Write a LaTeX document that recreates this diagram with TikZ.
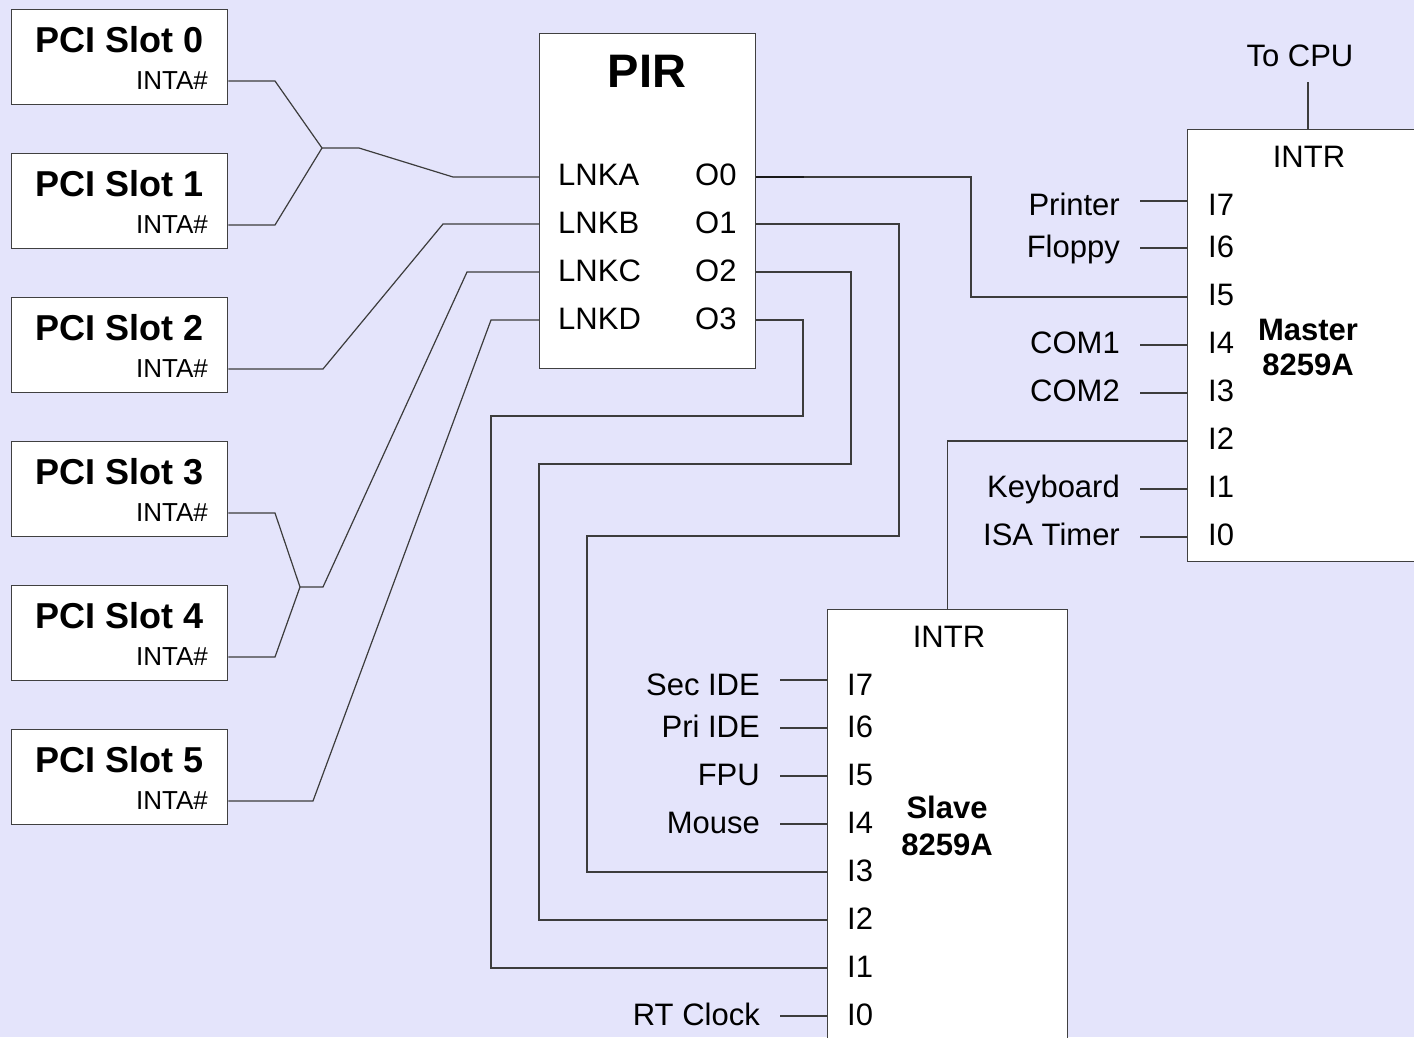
\documentclass[tikz,border=0pt]{standalone}
\usepackage{fontspec}
\setmainfont{Liberation Sans}
\definecolor{bgcol}{RGB}{228,228,251}
\definecolor{wirecol}{RGB}{60,60,60}
\definecolor{boxcol}{RGB}{64,64,64}
\newcommand\fsz[1]{\fontsize{#1}{#1}\selectfont}

\begin{document}
\begin{tikzpicture}[x=1pt,y=-1pt,
  box/.style={draw=boxcol,fill=white,line width=1.4pt,inner sep=0pt,anchor=north west},
  wire/.style={draw=wirecol,line width=1.2pt},
  txt/.style={inner sep=0pt,text=black,font=\fsz{31}},
  slottitle/.style={inner sep=0pt,anchor=base,font=\fsz{36}\bfseries},
  inta/.style={inner sep=0pt,anchor=base east,font=\fsz{26}},
  chip/.style={inner sep=0pt,anchor=base,font=\fsz{31}\bfseries}]

\useasboundingbox (0,0) rectangle (1414,1037);
\fill[bgcol] (0,0) rectangle (1414,1037);
\clip (0,0) rectangle (1414,1037);

% ---- PCI slots ----
\foreach \k in {0,...,5} {
  \pgfmathsetmacro\ytop{9+144*\k}
  \node[box,minimum width=216pt,minimum height=95pt] (s\k) at (11,\ytop) {};
  \node[slottitle] (s\k-t) at (120,\ytop+43) {PCI Slot \k};
  \node[inta] (s\k-i) at (208,\ytop+80) {INTA\#};
}

% ---- PIR router ----
\node[box,minimum width=216pt,minimum height=335pt] (pir) at (539,33) {};
\node[inner sep=0pt,anchor=base,font=\fsz{47}\bfseries] (pir-t) at (647,87) {PIR};
\foreach \n/\b in {A/185,B/233,C/281,D/329} {
  \node[txt,anchor=base west] (lnk\n) at (558,\b) {LNK\n};
}
\foreach \n/\b in {0/185,1/233,2/281,3/329} {
  \node[txt,anchor=base west] (out\n) at (695,\b) {O\n};
}

% ---- Master 8259A ----
\node[box,minimum width=260pt,minimum height=432pt] (master) at (1187,129) {};
\node[txt,anchor=base] (m-intr) at (1309,167) {INTR};
\node[chip] (m-name1) at (1308,340) {Master};
\node[chip] (m-name2) at (1308,375) {8259A};
\node[txt,anchor=base] (cpu) at (1300,66) {To CPU};
\coordinate (cpuend) at (1308,82);
\draw[wire] (cpuend) -- (cpuend |- master.north);

\foreach \n/\l/\c/\name in {7/201/204/Printer,6/248/246/Floppy,5/297/294/,
    4/345/342/COM1,3/393/390/COM2,2/441/438/,1/489/486/Keyboard,0/537/534/ISA Timer} {
  \node[txt,anchor=base west] (mi\n) at (1208,\c+11) {I\n};
  \coordinate (mp\n) at (master.west |- 0,\l);
}
\foreach \n/\l/\c/\name in {7/201/204/Printer,6/248/246/Floppy,
    4/345/342/COM1,3/393/390/COM2,1/489/486/Keyboard,0/537/534/ISA Timer} {
  \node[txt,anchor=base east] (ms\n) at (1120,\c+11) {\name};
  \draw[wire] (mp\n) -- ++(-47,0);
}

% ---- Slave 8259A ----
\node[box,minimum width=240pt,minimum height=460pt] (slave) at (827,609) {};
\node[txt,anchor=base] (s-intr) at (949,647) {INTR};
\node[chip] (s-name1) at (947,818) {Slave};
\node[chip] (s-name2) at (947,855) {8259A};

\foreach \n/\l/\c in {7/680/684,6/728/726,5/776/774,4/824/822,
    3/872/870,2/920/918,1/968/966,0/1016/1014} {
  \node[txt,anchor=base west] (si\n) at (847,\c+11) {I\n};
  \coordinate (sp\n) at (slave.west |- 0,\l);
}
\foreach \n/\l/\c/\name in {7/680/684/Sec IDE,6/728/726/Pri IDE,5/776/774/FPU,
    4/824/822/Mouse,0/1016/1014/RT Clock} {
  \node[txt,anchor=base east] (ss\n) at (760,\c+11) {\name};
  \draw[wire] (sp\n) -- ++(-47,0);
}

% ---- PCI INTA# lines to PIR links ----
\coordinate (j01) at (322,148);
\coordinate (j34) at (300,587);
\draw[wire] (s0.east |- 0,81)  -- (275,81)  -- (j01);
\draw[wire] (s1.east |- 0,225) -- (275,225) -- (j01);
\draw[wire] (j01) -- (359,148) -- (453,177) -- (pir.west |- 0,177);
\draw[wire] (s2.east |- 0,369) -- (323,369) -- (443,224) -- (pir.west |- 0,224);
\draw[wire] (s3.east |- 0,513) -- (275,513) -- (j34);
\draw[wire] (s4.east |- 0,657) -- (275,657) -- (j34);
\draw[wire] (j34) -- (323,587) -- (467,272) -- (pir.west |- 0,272);
\draw[wire] (s5.east |- 0,801) -- (313,801) -- (491,320) -- (pir.west |- 0,320);

% ---- PIR outputs to the controllers ----
\draw[wire] (pir.east |- 0,177) -- (971,177) -- (971,297) -- (mp5);
\draw[wire,draw=black!90,line width=1.6pt] (pir.east |- 0,177) -- ++(48,0);
\draw[wire] (pir.east |- 0,224) -- (899,224) -- (899,536) -- (587,536) -- (587,872) -- (sp3);
\draw[wire] (pir.east |- 0,272) -- (851,272) -- (851,464) -- (539,464) -- (539,920) -- (sp2);
\draw[wire] (pir.east |- 0,320) -- (803,320) -- (803,416) -- (491,416) -- (491,968) -- (sp1);

% ---- cascade: slave INTR to master I2 ----
\draw[wire] (mp2) -| (slave.north);
\end{tikzpicture}
\end{document}
